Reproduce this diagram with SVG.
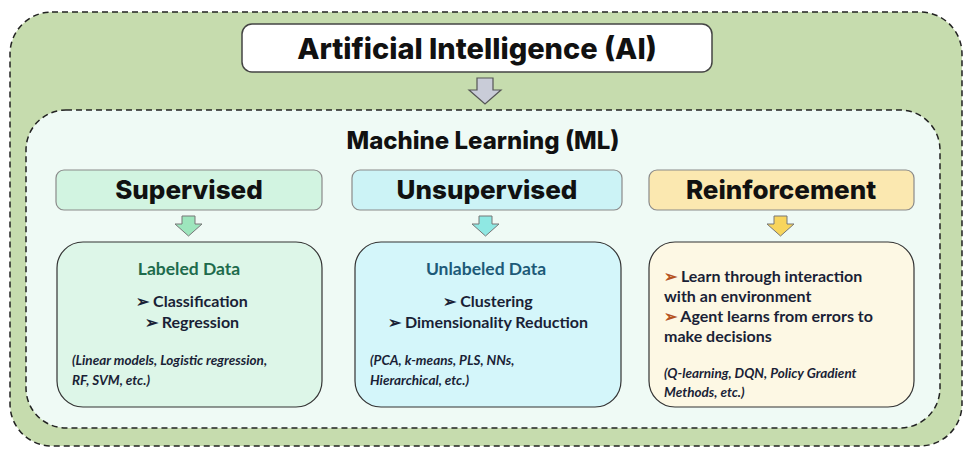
<svg xmlns="http://www.w3.org/2000/svg" width="972" height="455" viewBox="0 0 972 455">
<style>
text{font-family:Lato,"Open Sans",sans-serif;fill:#1a1f36}
.h{font-family:Inter,Lato,sans-serif;font-weight:800;font-size:26px;text-anchor:middle;fill:#111}
.sub{font-weight:700;font-size:17.5px;text-anchor:middle}
.b{font-size:16px;font-weight:700}
.it{font-size:13.5px;font-style:italic;font-weight:700}
.cat{stroke:#8a8a8a;stroke-width:1.2}
.box{stroke:#333;stroke-width:1.2}
</style>
<rect x="10" y="12" width="952" height="434" rx="42" fill="#c6dcae" stroke="#222" stroke-width="1.5" stroke-dasharray="6 4"/>
<rect x="26" y="110" width="914" height="318" rx="40" fill="#effaf5" stroke="#222" stroke-width="1.5" stroke-dasharray="6 4"/>
<g id="ai"><rect x="242" y="24" width="470" height="48" rx="10" fill="#fff" stroke="#444" stroke-width="1.5"/>
<text class="h" x="477" y="59" style="font-size:29px">Artificial Intelligence (AI)</text></g>
<g id="ml"><text class="h" x="483" y="149" style="font-size:24px">Machine Learning (ML)</text></g>
<g id="connectors">
<path d="M477 78h16v12h8l-16 14-16-14h8z" fill="#c9ccd8" stroke="#555" stroke-width="1.2"/>
<path d="M182 216h13v8h7l-13.5 12-13.5-12h7z" fill="#9de6bd" stroke="#777"/>
<path d="M479 216h13v8h7l-13.5 12-13.5-12h7z" fill="#8fe8e3" stroke="#777"/>
<path d="M774 216h13v8h7l-13.5 12-13.5-12h7z" fill="#f8d55c" stroke="#777"/>
</g>
<g id="supervised"><rect class="cat" x="56" y="170" width="266" height="40" rx="8" fill="#d2f4e1"/><text class="h" x="189" y="199">Supervised</text></g>
<g id="unsupervised"><rect class="cat" x="352" y="170" width="270" height="40" rx="8" fill="#ccf3f6"/><text class="h" x="487" y="199">Unsupervised</text></g>
<g id="reinforcement"><rect class="cat" x="649" y="170" width="265" height="40" rx="8" fill="#fbe8b0"/><text class="h" x="781" y="199">Reinforcement</text></g>
<g id="labeled"><rect class="box" x="57" y="242" width="265" height="165" rx="26" fill="#ddf6e8"/>
<text class="sub" x="189" y="275" style="fill:#1e6b4c">Labeled Data</text>
<text class="b" x="192" y="307" text-anchor="middle">➢ Classification</text>
<text class="b" x="192" y="328" text-anchor="middle">➢ Regression</text>
<text class="it" x="72" y="365">(Linear models, Logistic regression,</text>
<text class="it" x="72" y="385">RF, SVM, etc.)</text></g>
<g id="unlabeled"><rect class="box" x="355" y="242" width="266" height="165" rx="26" fill="#d4f6fa"/>
<text class="sub" x="486" y="275" style="fill:#1d5a78">Unlabeled Data</text>
<text class="b" x="488" y="307" text-anchor="middle">➢ Clustering</text>
<text class="b" x="488" y="328" text-anchor="middle">➢ Dimensionality Reduction</text>
<text class="it" x="370" y="365">(PCA, k-means, PLS, NNs,</text>
<text class="it" x="370" y="385">Hierarchical, etc.)</text></g>
<g id="rl"><rect class="box" x="649" y="242" width="265" height="165" rx="26" fill="#fdf8e4"/>
<text class="b" x="664" y="282"><tspan style="fill:#b5531f">➢</tspan> Learn through interaction</text>
<text class="b" x="664" y="302">with an environment</text>
<text class="b" x="664" y="322"><tspan style="fill:#b5531f">➢</tspan> Agent learns from errors to</text>
<text class="b" x="664" y="342">make decisions</text>
<text class="it" x="664" y="378">(Q-learning, DQN, Policy Gradient</text>
<text class="it" x="664" y="397">Methods, etc.)</text></g>
</svg>
